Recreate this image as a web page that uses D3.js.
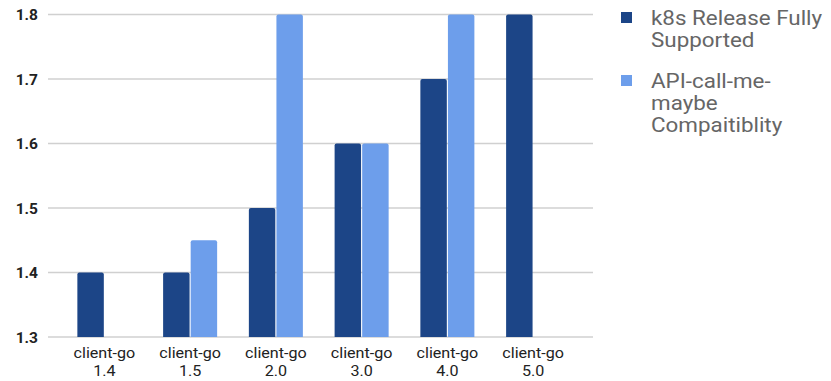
<!DOCTYPE html>
<html>
<head>
<meta charset="utf-8">
<script src="https://cdn.jsdelivr.net/npm/d3@7"></script>
<style>
  body { margin: 0; background: #fff; }
  svg { display: block; font-family: Roboto, "Noto Sans", sans-serif; }
</style>
</head>
<body>
<svg width="831" height="381"></svg>
<script>
const categories = ['client-go 1.4', 'client-go 1.5', 'client-go 2.0', 'client-go 3.0', 'client-go 4.0', 'client-go 5.0'];
const seriesNames = ['k8s Release Fully Supported', 'API-call-me-maybe Compaitiblity'];
const k8sRelease = [1.4, 1.4, 1.5, 1.6, 1.7, 1.8];
const apiCompat = [null, 1.45, 1.8, 1.6, 1.8, null];
const yTicks = [1.3, 1.4, 1.5, 1.6, 1.7, 1.8];
const colors = ['#1c4587', '#6d9eeb'];
const legendLines = [['k8s Release Fully', 'Supported'], ['API-call-me-', 'maybe', 'Compaitiblity']];

const svg = d3.select('svg');

const x = d3.scaleBand().domain(categories).range([61.5, 576]).paddingInner(0.37).paddingOuter(0.185);
const sub = d3.scaleBand().domain(seriesNames).range([0, x.bandwidth()]).paddingInner(0.04);
const y = d3.scaleLinear().domain([1.3, 1.8]).range([337, 14.5]);

// grid
svg.append('g').selectAll('line').data(yTicks).join('line')
  .attr('x1', 48).attr('x2', 593)
  .attr('y1', d => y(d)).attr('y2', d => y(d))
  .attr('stroke', '#d0d0d0').attr('stroke-width', 1.3);

// y labels
svg.append('g').selectAll('text').data(yTicks).join('text')
  .attr('x', 38).attr('y', d => y(d) + 5.5)
  .attr('text-anchor', 'end')
  .attr('font-size', 15.5).attr('font-weight', 'bold').attr('fill', '#222')
  .text(d => d.toFixed(1));

// bars
const rows = categories.map((c, i) => ({ c, vals: [k8sRelease[i], apiCompat[i]] }));
const groups = svg.append('g').selectAll('g').data(rows).join('g')
  .attr('transform', d => `translate(${x(d.c)},0)`);
groups.selectAll('path')
  .data(d => d.vals.map((v, j) => ({ v, j })).filter(e => e.v != null))
  .join('path')
  .attr('fill', e => colors[e.j])
  .attr('d', e => {
    const x0 = sub(seriesNames[e.j]), w = sub.bandwidth();
    const top = y(e.v), bot = y(1.3), r = 2;
    return `M${x0},${bot}V${top + r}Q${x0},${top} ${x0 + r},${top}H${x0 + w - r}Q${x0 + w},${top} ${x0 + w},${top + r}V${bot}Z`;
  });

// x labels (two lines each)
const xl = svg.append('g').selectAll('g').data(categories).join('g');
xl.append('text').attr('text-anchor', 'middle').attr('font-size', 15.5).attr('fill', '#222')
  .attr('transform', 'scale(1.04,1)')
  .attr('x', d => (x(d) + x.bandwidth() / 2) / 1.04).attr('y', 358).text(d => d.split(' ')[0]);
xl.append('text').attr('text-anchor', 'middle').attr('font-size', 15.5).attr('fill', '#222')
  .attr('transform', 'scale(1.04,1)')
  .attr('x', d => (x(d) + x.bandwidth() / 2) / 1.04).attr('y', 376.5).text(d => d.split(' ')[1]);

// legend
const legY = [12, 75];
const leg = svg.append('g').selectAll('g').data(seriesNames).join('g');
leg.append('rect').attr('x', 621).attr('y', (d, i) => legY[i]).attr('width', 11).attr('height', 11)
  .attr('fill', (d, i) => colors[i]);
leg.append('text').attr('font-size', 20).attr('fill', '#666')
  .attr('transform', 'translate(651,0) scale(1.12,1)')
  .selectAll('tspan').data((d, i) => legendLines[i].map((t, k) => ({ t, k, i }))).join('tspan')
  .attr('x', 0).attr('y', e => legY[e.i] + 13 + e.k * 22)
  .text(e => e.t);
</script>
</body>
</html>
